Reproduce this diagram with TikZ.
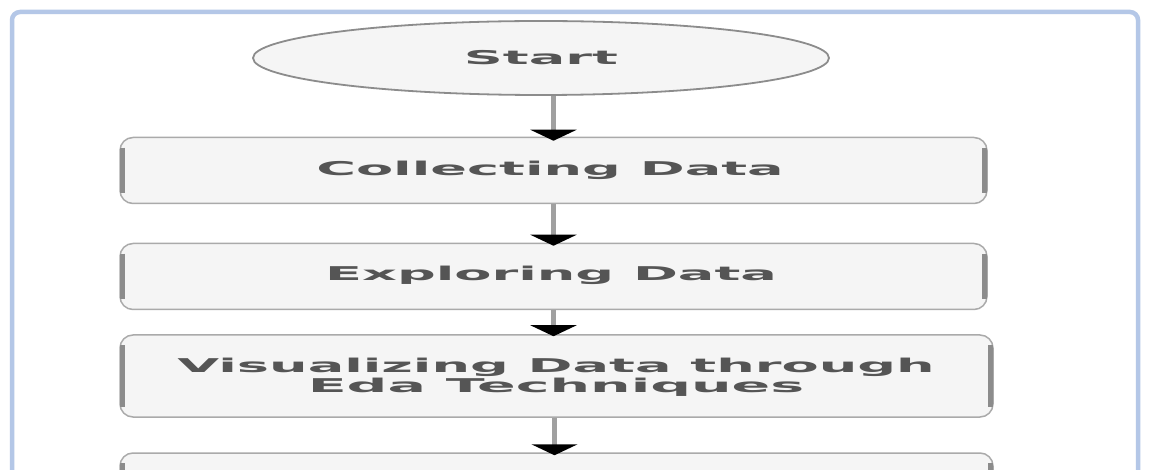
\documentclass[tikz,border=0pt]{standalone}
\usepackage{fontspec}
\setmainfont{DejaVu Sans}
\usetikzlibrary{shapes.geometric,arrows.meta}
\definecolor{framecol}{RGB}{180,199,231}
\definecolor{boxfill}{RGB}{245,245,245}
\definecolor{boxline}{RGB}{170,170,170}
\definecolor{bandcol}{RGB}{140,140,140}
\definecolor{txtcol}{RGB}{85,85,85}
\definecolor{shaftcol}{RGB}{160,160,160}
\tikzset{
  startnode/.style={ellipse, draw=bandcol, line width=1.8pt, fill=boxfill, inner sep=0pt,
    minimum width=576pt, minimum height=74pt},
  stepbox/.style={rectangle, rounded corners=13pt, draw=boxline, line width=1.5pt, fill=boxfill,
    inner sep=0pt, minimum width=#1, minimum height=66pt, text=txtcol, align=center},
  stepbox/.default=867pt,
  band/.style={draw=bandcol, line width=5pt},
  flow/.style={draw=shaftcol, line width=5pt,
    -{Triangle[width=46pt,length=11pt,color=black,fill=black]}},
  lbl/.style={font=\bfseries\fontsize{19}{20}\selectfont, text=txtcol}
}
\newcommand{\wide}[1]{\scalebox{2.85}[1]{#1}}
\begin{document}
\begin{tikzpicture}[x=1pt,y=-1pt]
\useasboundingbox (0,0) rectangle (1149,470);
\clip (0,0) rectangle (1149,470);
\fill[white] (0,0) rectangle (1149,470);
\draw[framecol, line width=4.5pt, rounded corners=8pt] (12,12) rectangle (1138,520);

\node[startnode] (start) at (541,58) {};
\node[lbl] (startlbl) at (541,58) {\wide{Start}};

\node[stepbox] (collect) at (553.5,170.5) {};
\node[lbl] (collectlbl) at (550,170) {\wide{Collecting Data}};

\node[stepbox] (explore) at (553.5,276.5) {};
\node[lbl] (explorelbl) at (551,275) {\wide{Exploring Data}};

\node[stepbox=873pt, minimum height=82pt] (visual) at (556.5,376) {};
\node[lbl] (visuallbl1) at (556,367) {\wide{Visualizing Data through}};
\node[lbl] (visuallbl2) at (556,387) {\scalebox{3.0}[1]{Eda Techniques}};

\node[stepbox=873pt] (next) at (556.5,486) {};

\foreach \n in {collect,explore,visual,next}{
  \draw[band] ([xshift=3pt,yshift=-11pt]\n.north west) -- ([xshift=3pt,yshift=11pt]\n.south west);
  \draw[band] ([xshift=-3pt,yshift=-11pt]\n.north east) -- ([xshift=-3pt,yshift=11pt]\n.south east);
}

\coordinate (s0) at (start.south -| collect.north);
\draw[flow] (s0) -- ([yshift=-4pt]collect.north);
\draw[flow] (collect.south) -- ([yshift=-3pt]explore.north);
\draw[flow] (explore.south) -- ([yshift=-2pt]explore.south |- visual.north);
\draw[flow] ([xshift=-2pt]visual.south) -- ([xshift=-2pt,yshift=-3pt]next.north);
\end{tikzpicture}
\end{document}
